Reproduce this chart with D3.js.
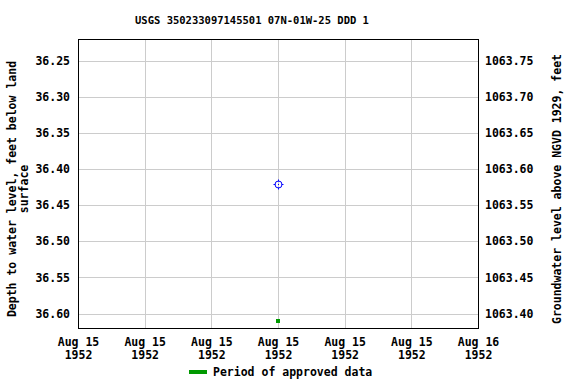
<!DOCTYPE html>
<html><head><meta charset="utf-8">
<script src="https://cdn.jsdelivr.net/npm/d3@7"></script>
<style>body{margin:0;background:#fff}text{font-family:"DejaVu Sans Mono",monospace;font-weight:bold;font-size:11.5px;fill:#000}</style>
</head><body>
<script>
const title = "USGS 350233097145501 07N-01W-25 DDD 1";
const yTicks = [36.25, 36.30, 36.35, 36.40, 36.45, 36.50, 36.55, 36.60];
const xTickLabels = ["Aug 15", "Aug 15", "Aug 15", "Aug 15", "Aug 15", "Aug 15", "Aug 16"];
const xTickYears = ["1952", "1952", "1952", "1952", "1952", "1952", "1952"];
const measTimes = ["1952-08-15T12:00:00"];
const measDepths = [36.42];
const approvedTimes = ["1952-08-15T12:00:00"];
const datum = 1100.0;

const W = 576, H = 384;
const m = {l: 78, r: 478, t: 39, b: 328};
const svg = d3.select("body").append("svg").attr("width", W).attr("height", H);

const x = d3.scaleTime().domain([new Date("1952-08-15T00:00:00"), new Date("1952-08-16T00:00:00")]).range([m.l, m.r]);
const y = d3.scaleLinear().domain([36.22, 36.62]).range([m.t, m.b]);
const y2 = d3.scaleLinear().domain([datum - 36.22, datum - 36.62]).range([m.t, m.b]);
const xTicks = d3.range(7).map(i => new Date(new Date("1952-08-15T00:00:00").getTime() + i * 4 * 3600e3));

// grid
svg.append("g").selectAll("line").data(yTicks).join("line")
  .attr("x1", m.l).attr("x2", m.r).attr("y1", d => Math.round(y(d)) + 0.5).attr("y2", d => Math.round(y(d)) + 0.5)
  .attr("stroke", "#cccccc");
svg.append("g").selectAll("line").data(xTicks).join("line")
  .attr("y1", m.t).attr("y2", m.b).attr("x1", d => Math.round(x(d)) + 0.5).attr("x2", d => Math.round(x(d)) + 0.5)
  .attr("stroke", "#cccccc");

// axes
const left = svg.append("g").attr("transform", `translate(${m.l},0)`)
  .call(d3.axisLeft(y).tickValues(yTicks).tickFormat(d3.format(".2f")).tickSize(0).tickPadding(8));
const right = svg.append("g").attr("transform", `translate(${m.r},0)`)
  .call(d3.axisRight(y2).tickValues(yTicks.map(d => datum - d)).tickFormat(d3.format(".2f")).tickSize(0).tickPadding(7));
const bottom = svg.append("g").attr("transform", `translate(0,${m.b})`)
  .call(d3.axisBottom(x).tickValues(xTicks).tickSize(0).tickFormat(() => ""));
[left, right, bottom].forEach(g => { g.select(".domain").remove(); g.selectAll("text").attr("font-family", null).attr("font-size", null); });
bottom.selectAll(".tick").each(function(d, i) {
  const t = d3.select(this);
  t.append("text").attr("text-anchor", "middle").attr("y", 18).text(xTickLabels[i]);
  t.append("text").attr("text-anchor", "middle").attr("y", 31).text(xTickYears[i]);
});

svg.append("rect").attr("x", m.l + 0.5).attr("y", m.t + 0.5).attr("width", m.r - m.l).attr("height", m.b - m.t)
  .attr("fill", "none").attr("stroke", "#000");

// title
svg.append("text").attr("x", 252).attr("y", 24).attr("text-anchor", "middle").style("font-size", "10.5px").text(title);

// axis titles
svg.append("text").attr("transform", `translate(16,189) rotate(-90)`).attr("text-anchor", "middle").text("Depth to water level, feet below land");
svg.append("text").attr("transform", `translate(28,189) rotate(-90)`).attr("text-anchor", "middle").text("surface");
svg.append("text").attr("transform", `translate(561,189) rotate(-90)`).attr("text-anchor", "middle").text("Groundwater level above NGVD 1929, feet");

// approved period marks
svg.append("g").selectAll("rect").data(approvedTimes).join("rect")
  .attr("x", d => x(new Date(d)) - 2).attr("y", m.b - 9).attr("width", 4).attr("height", 4).attr("fill", "#009900");

// measurement points
const pts = svg.append("g").selectAll("g").data(measTimes.map((t, i) => ({t: new Date(t), v: measDepths[i]}))).join("g")
  .attr("transform", d => `translate(${Math.round(x(d.t)) + 0.5},${Math.round(y(d.v)) + 0.5})`);
pts.append("circle").attr("r", 3.5).attr("fill", "none").attr("stroke", "#0000ff").attr("stroke-width", 1);
pts.append("path").attr("d", "M-5,0H-3M3,0H5M0,-5V-3M0,3V5").attr("stroke", "#0000ff");
pts.append("rect").attr("x", -0.5).attr("y", -0.5).attr("width", 1).attr("height", 1).attr("fill", "#0000ff");

// legend
svg.append("line").attr("x1", 189).attr("x2", 207).attr("y1", 372).attr("y2", 372).attr("stroke", "#009900").attr("stroke-width", 4);
svg.append("text").attr("x", 213).attr("y", 376).text("Period of approved data");
</script>
</body></html>
